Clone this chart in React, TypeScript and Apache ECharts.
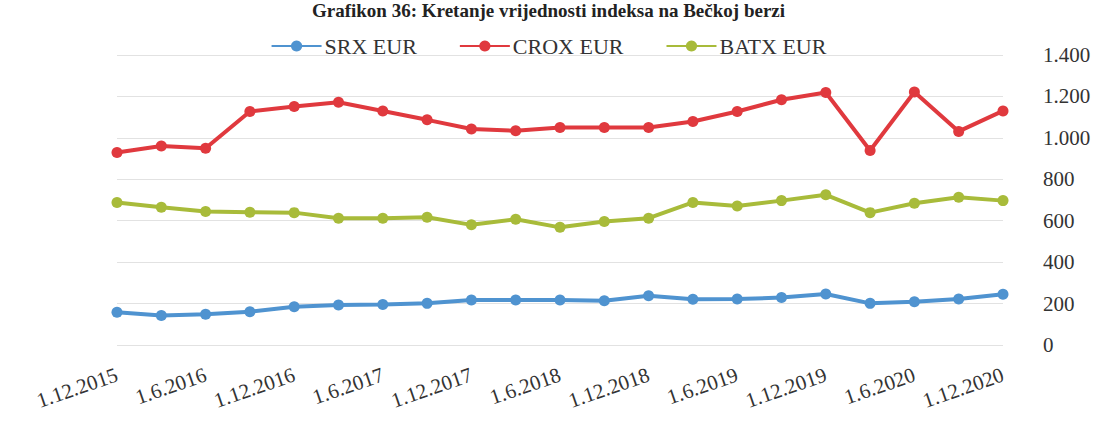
import React, { useEffect, useRef } from "react";
import * as echarts from "echarts";

const categories = [
  "1.12.2015", "1.3.2016", "1.6.2016", "1.9.2016", "1.12.2016", "1.3.2017", "1.6.2017",
  "1.9.2017", "1.12.2017", "1.3.2018", "1.6.2018", "1.9.2018", "1.12.2018", "1.3.2019",
  "1.6.2019", "1.9.2019", "1.12.2019", "1.3.2020", "1.6.2020", "1.9.2020", "1.12.2020",
];

const srx = [158, 142, 148, 161, 185, 193, 196, 201, 217, 217, 217, 214, 238, 221, 222, 229, 246, 201, 209, 222, 245];
const crox = [929, 961, 950, 1127, 1151, 1172, 1130, 1087, 1043, 1034, 1050, 1050, 1050, 1079, 1127, 1184, 1219, 939, 1221, 1031, 1130];
const batx = [688, 665, 644, 641, 639, 612, 612, 617, 580, 607, 568, 596, 612, 688, 671, 697, 725, 639, 684, 713, 697];

const seriesNames = ["SRX EUR", "CROX EUR", "BATX EUR"];
const colors = ["#4f93d0", "#e0393e", "#a8bb3a"];
const titleText = "Grafikon 36: Kretanje vrijednosti indeksa na Bečkoj berzi";

const font = "'Liberation Serif', 'Times New Roman', serif";

export default function App() {
  const ref = useRef<HTMLDivElement>(null);
  useEffect(() => {
    document.body.style.margin = "0";
    const chart = echarts.init(ref.current!, null, { renderer: "svg" });
    const data = [srx, crox, batx];
    chart.setOption({
      animation: false,
      backgroundColor: "#ffffff",
      title: {
        text: titleText,
        left: "center",
        top: 0,
        padding: [1, 5, 0, 5],
        textStyle: { fontFamily: font, fontSize: 19, fontWeight: "bold", color: "#222" },
      },
      legend: {
        top: 30,
        left: "center",
        itemWidth: 50,
        itemHeight: 14,
        itemGap: 42,
        data: seriesNames,
        textStyle: { fontFamily: font, fontSize: 22, color: "#333", padding: [0, 0, 0, -2] },
      },
      grid: { left: 117, right: 94, top: 55, bottom: 78 },
      xAxis: {
        type: "category",
        data: categories,
        boundaryGap: false,
        axisLine: { show: false },
        axisTick: { show: false },
        axisLabel: {
          interval: 1,
          rotate: 19,
          margin: 29,
          fontFamily: font,
          fontSize: 21,
          color: "#333",
        },
      },
      yAxis: {
        type: "value",
        position: "right",
        min: 0,
        max: 1400,
        interval: 200,
        axisLine: { show: false },
        axisTick: { show: false },
        splitLine: { lineStyle: { color: "#e2e2e2", width: 1 } },
        axisLabel: {
          margin: 40,
          align: "left",
          fontFamily: font,
          fontSize: 21,
          color: "#333",
          formatter: (v: number) => v.toString().replace(/\B(?=(\d{3})+(?!\d))/g, "."),
        },
      },
      series: seriesNames.map((name, i) => ({
        name,
        type: "line",
        data: data[i],
        symbol: "circle",
        symbolSize: 11,
        lineStyle: { width: 4, color: colors[i] },
        itemStyle: { color: colors[i] },
      })),
    });
    return () => chart.dispose();
  }, []);
  return <div ref={ref} style={{ width: 1097, height: 423 }} />;
}
